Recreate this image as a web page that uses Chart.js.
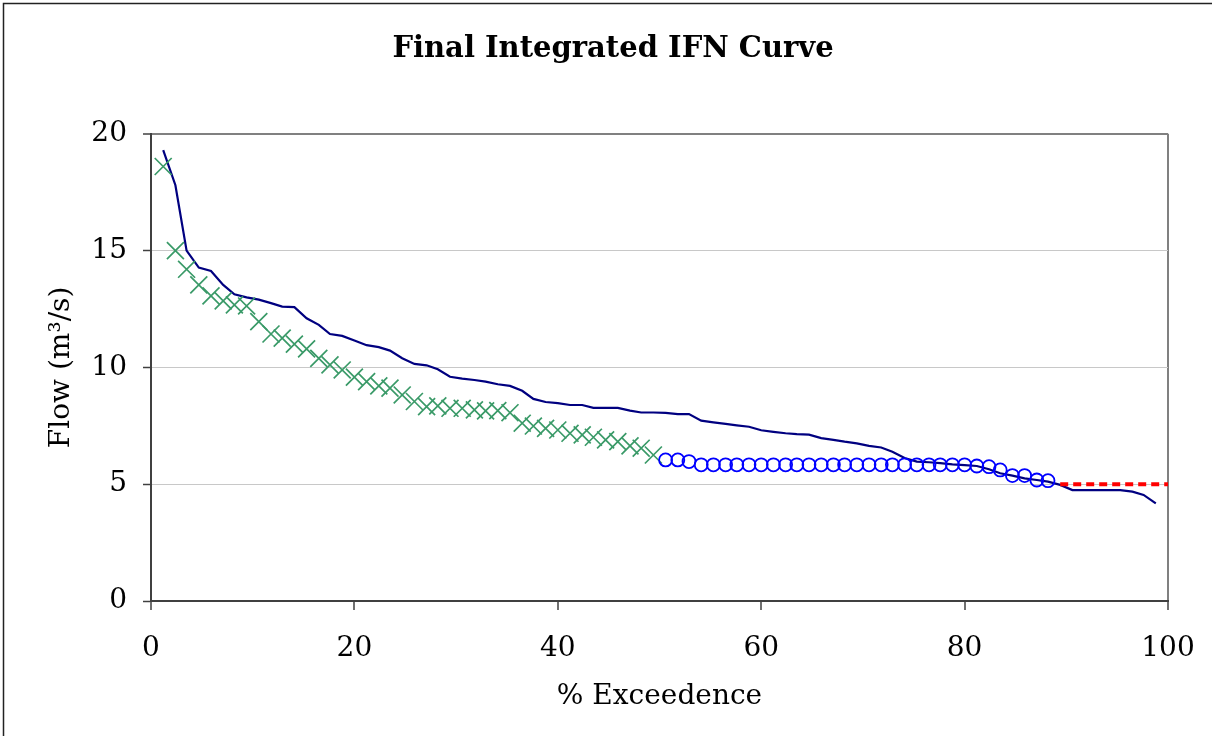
<!DOCTYPE html>
<html>
<head>
<meta charset="utf-8">
<title>Final Integrated IFN Curve</title>
<script src="https://cdn.jsdelivr.net/npm/chart.js@4/dist/chart.umd.min.js"></script>
<style>
  html, body { margin: 0; padding: 0; background: #fff; overflow: hidden; }
  canvas { display: block; }
</style>
</head>
<body>
<canvas id="ifnChart" width="1212" height="736"></canvas>
<script>
// % exceedence for each ranked flow (84 ranks)
const exceedence = [
  1.2, 2.4, 3.5, 4.7, 5.9, 7.1, 8.2, 9.4, 10.6, 11.8, 12.9, 14.1, 15.3, 16.5,
  17.6, 18.8, 20.0, 21.2, 22.4, 23.5, 24.7, 25.9, 27.1, 28.2, 29.4, 30.6, 31.8, 32.9,
  34.1, 35.3, 36.5, 37.6, 38.8, 40.0, 41.2, 42.4, 43.5, 44.7, 45.9, 47.1, 48.2, 49.4,
  50.6, 51.8, 52.9, 54.1, 55.3, 56.5, 57.6, 58.8, 60.0, 61.2, 62.4, 63.5, 64.7, 65.9,
  67.1, 68.2, 69.4, 70.6, 71.8, 72.9, 74.1, 75.3, 76.5, 77.6, 78.8, 80.0, 81.2, 82.4,
  83.5, 84.7, 85.9, 87.1, 88.2, 89.4, 90.6, 91.8, 92.9, 94.1, 95.3, 96.5, 97.6, 98.8
];

// natural flow duration curve
const naturalFlow = [
  19.3, 17.8, 15.0, 14.27, 14.13, 13.53, 13.13, 13.0, 12.9, 12.75, 12.6, 12.58, 12.1, 11.82,
  11.43, 11.35, 11.15, 10.95, 10.87, 10.72, 10.39, 10.15, 10.09, 9.92, 9.6, 9.52, 9.46, 9.39,
  9.28, 9.21, 9.0, 8.65, 8.52, 8.47, 8.39, 8.39, 8.27, 8.27, 8.27, 8.15, 8.07, 8.07,
  8.05, 8.0, 8.0, 7.72, 7.65, 7.58, 7.52, 7.46, 7.31, 7.24, 7.18, 7.14, 7.12, 6.97,
  6.9, 6.82, 6.75, 6.64, 6.57, 6.39, 6.12, 5.97, 5.94, 5.9, 5.85, 5.82, 5.78, 5.64,
  5.47, 5.37, 5.25, 5.18, 5.11, 4.97, 4.75, 4.75, 4.75, 4.75, 4.75, 4.68, 4.54, 4.18
];

// IFN for the high-flow part (ranks 1-42)
const highFlowIFN = [
  18.6, 15.0, 14.2, 13.53, 13.06, 12.85, 12.68, 12.63, 11.96, 11.43, 11.25, 11.0, 10.79, 10.39,
  10.11, 9.89, 9.58, 9.39, 9.21, 9.11, 8.82, 8.54, 8.32, 8.35, 8.25, 8.25, 8.18, 8.14,
  8.15, 8.06, 7.61, 7.49, 7.39, 7.32, 7.18, 7.11, 7.01, 6.9, 6.82, 6.64, 6.54, 6.25
];

// IFN for the mid-flow part (ranks 43-75)
const midFlowIFN = [
  6.04, 6.04, 5.97, 5.83, 5.83, 5.83, 5.83, 5.83, 5.83, 5.83, 5.83, 5.83, 5.83, 5.83,
  5.83, 5.83, 5.83, 5.83, 5.83, 5.83, 5.83, 5.83, 5.83, 5.83, 5.83, 5.83, 5.78, 5.75,
  5.61, 5.37, 5.37, 5.18, 5.15
];

// low-flow cut-off line
const lowFlowX = [89.4, 90.6, 91.8, 92.9, 94.1, 95.3, 96.5, 97.6, 98.8, 100];
const lowFlowIFN = [5, 5, 5, 5, 5, 5, 5, 5, 5, 5];

const xTicks = [0, 20, 40, 60, 80, 100];
const yTicks = [0, 5, 10, 15, 20];

function pairs(xs, ys, offset) {
  return ys.map((y, i) => ({ x: xs[i + offset], y: y }));
}

const serif = "'DejaVu Serif', 'Liberation Serif', serif";

// outer frame of the chart object
const framePlugin = {
  id: "frame",
  beforeDraw(chart) {
    const c = chart.ctx;
    c.save();
    c.fillStyle = "#fff";
    c.fillRect(0, 0, chart.width, chart.height);
    c.strokeStyle = "#222";
    c.lineWidth = 1.5;
    c.beginPath();
    c.moveTo(3.5, chart.height);
    c.lineTo(3.5, 3.5);
    c.lineTo(chart.width, 3.5);
    c.stroke();
    c.restore();
  }
};

new Chart(document.getElementById("ifnChart"), {
  type: "scatter",
  data: {
    datasets: [
      {
        data: pairs(lowFlowX, lowFlowIFN, 0),
        showLine: true,
        borderColor: "#ff0000",
        borderWidth: 4,
        borderDash: [8, 5],
        pointRadius: 0
      },
      {
        data: pairs(exceedence, midFlowIFN, 42),
        showLine: false,
        pointStyle: "circle",
        pointRadius: 6.5,
        borderColor: "#0000ff",
        backgroundColor: "rgba(0,0,0,0)",
        borderWidth: 1.8
      },
      {
        data: pairs(exceedence, highFlowIFN, 0),
        showLine: false,
        pointStyle: "crossRot",
        pointRadius: 12,
        borderColor: "#3a9a68",
        borderWidth: 1.7
      },
      {
        data: pairs(exceedence, naturalFlow, 0),
        showLine: true,
        borderColor: "#000080",
        borderWidth: 2.2,
        pointRadius: 0,
        tension: 0
      }
    ]
  },
  options: {
    responsive: false,
    animation: false,
    layout: { padding: { left: 14, right: 0, top: 0, bottom: 0 } },
    plugins: {
      legend: { display: false },
      tooltip: { enabled: false },
      title: {
        display: true,
        text: "Final Integrated IFN Curve",
        color: "#000",
        font: { family: serif, size: 29, weight: "bold", lineHeight: 1.2 },
        padding: { top: 32, bottom: 67 }
      }
    },
    scales: {
      x: {
        type: "linear",
        min: 0,
        max: 100,
        afterBuildTicks: (s) => { s.ticks = xTicks.map(v => ({ value: v })); },
        afterFit: (s) => {
          s.height = 135;
          s.paddingLeft = 0;
          s.paddingRight = 44;
        },
        ticks: {
          color: "#000",
          padding: 22,
          maxRotation: 0,
          font: { family: serif, size: 28 }
        },
        grid: {
          drawOnChartArea: true,
          color: (ctx) => ctx.tick && ctx.tick.value === 100 ? "#808080" : "rgba(0,0,0,0)",
          lineWidth: 2,
          tickColor: "#404040",
          tickLength: 9,
          tickWidth: 1.5
        },
        border: { display: true, color: "#404040", width: 2 },
        title: {
          display: true,
          text: "% Exceedence",
          color: "#000",
          font: { family: serif, size: 28, lineHeight: 1.2 },
          padding: { top: 0, bottom: 22 }
        }
      },
      y: {
        type: "linear",
        min: 0,
        max: 20,
        afterBuildTicks: (s) => { s.ticks = yTicks.map(v => ({ value: v })); },
        afterFit: (s) => { s.width = 137; },
        ticks: {
          color: "#000",
          padding: 16,
          font: { family: serif, size: 28 }
        },
        grid: {
          color: (ctx) => {
            if (!ctx.tick) return "#c8c8c8";
            if (ctx.tick.value === 20) return "#808080";
            if (ctx.tick.value === 0) return "rgba(0,0,0,0)";
            return "#c8c8c8";
          },
          lineWidth: (ctx) => ctx.tick && ctx.tick.value === 20 ? 2 : 1,
          tickColor: "#404040",
          tickLength: 8,
          tickWidth: 1.5
        },
        border: { display: true, color: "#404040", width: 2 },
        title: {
          display: true,
          text: "Flow (m³/s)",
          color: "#000",
          font: { family: serif, size: 28, lineHeight: 1.2 },
          padding: { top: 31, bottom: 0 }
        }
      }
    }
  },
  plugins: [framePlugin]
});
</script>
</body>
</html>
